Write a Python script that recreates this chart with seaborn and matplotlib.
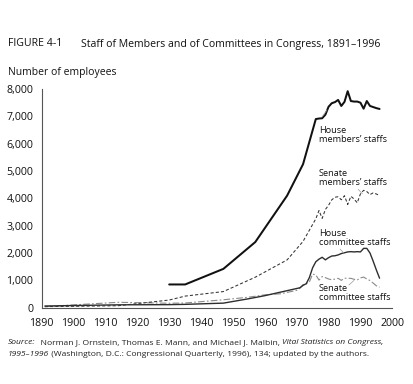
import matplotlib
matplotlib.use("Agg")
import matplotlib.pyplot as plt
import seaborn as sns
import pandas as pd

# ---------------- data ----------------
hm_years = [1930, 1935, 1947, 1957, 1967, 1972, 1976, 1977, 1978, 1979, 1980, 1981,
            1982, 1983, 1984, 1985, 1986, 1987, 1988, 1989, 1990, 1991, 1992, 1993,
            1994, 1995, 1996]
hm_vals = [850, 850, 1420, 2400, 4100, 5250, 6900, 6920, 6930, 7060, 7350, 7480,
           7520, 7600, 7380, 7530, 7920, 7560, 7540, 7540, 7500, 7280, 7560, 7380,
           7340, 7300, 7270]

sm_years = [1891, 1914, 1930, 1935, 1947, 1957, 1967, 1972, 1976, 1977, 1978, 1979,
            1980, 1981, 1982, 1983, 1984, 1985, 1986, 1987, 1988, 1989, 1990, 1991,
            1992, 1993, 1994, 1995, 1996]
sm_vals = [39, 72, 280, 424, 590, 1115, 1749, 2426, 3251, 3554, 3268, 3593,
           3746, 3945, 4041, 4059, 3949, 4097, 3774, 4075, 3977, 3837, 4162, 4294,
           4249, 4138, 4200, 4160, 4100]

hc_years = [1891, 1914, 1930, 1935, 1947, 1955, 1960, 1965, 1970, 1971, 1972, 1973,
            1974, 1975, 1976, 1977, 1978, 1979, 1980, 1981, 1982, 1983, 1984, 1985,
            1986, 1987, 1988, 1989, 1990, 1991, 1992, 1993, 1994, 1995, 1996]
hc_vals = [62, 105, 112, 122, 167, 329, 440, 571, 702, 729, 817, 878,
           1107, 1460, 1680, 1776, 1844, 1750, 1830, 1890, 1900, 1930, 1980, 2010,
           2040, 2050, 2040, 2050, 2040, 2170, 2170, 2000, 1700, 1380, 1080]

sc_years = [1891, 1914, 1930, 1935, 1947, 1955, 1960, 1965, 1970, 1971, 1972, 1973,
            1974, 1975, 1976, 1977, 1978, 1979, 1980, 1981, 1982, 1983, 1984, 1985,
            1986, 1987, 1988, 1989, 1990, 1991, 1992, 1993, 1994, 1995, 1996]
sc_vals = [41, 198, 163, 172, 290, 386, 470, 509, 635, 711, 844, 873,
           948, 1230, 1201, 1010, 1140, 1100, 1050, 1022, 1047, 1075, 1000, 1080,
           1075, 1074, 1040, 1013, 1090, 1120, 1051, 994, 900, 800, 750]

x_ticks = [1890, 1900, 1910, 1920, 1930, 1940, 1950, 1960, 1970, 1980, 1990, 2000]
y_ticks = [0, 1000, 2000, 3000, 4000, 5000, 6000, 7000, 8000]
y_tick_labels = ["0", "1,000", "2,000", "3,000", "4,000", "5,000", "6,000", "7,000", "8,000"]

series_labels = ["House\nmembers\u2019 staffs", "Senate\nmembers\u2019 staffs",
                 "House\ncommittee staffs", "Senate\ncommittee staffs"]

# ---------------- figure ----------------
sns.set_theme(style="white")
plt.rcParams["font.family"] = ["Open Sans", "DejaVu Sans"]

W, H = 413, 384
fig = plt.figure(figsize=(W / 100, H / 100), dpi=100)
ax = fig.add_axes([41.7 / W, 1 - 307.7 / H, (392.3 - 41.7) / W, (307.7 - 89) / H])

def draw(years, vals, color, lw, ls):
    df = pd.DataFrame({"year": years, "n": vals})
    sns.lineplot(data=df, x="year", y="n", ax=ax, color=color, linewidth=lw,
                 linestyle=ls, estimator=None, sort=False)

draw(sc_years, sc_vals, "#8a8a8a", 0.8, (0, (6, 2, 1.5, 2)))
draw(hc_years, hc_vals, "#2e2e2e", 1.0, "-")
draw(sm_years, sm_vals, "#333333", 0.75, (0, (3, 2)))
draw(hm_years, hm_vals, "#111111", 1.45, "-")

ax.set_xlim(1890, 2000)
ax.set_ylim(0, 8000)
ax.set_xticks(x_ticks)
ax.set_yticks(y_ticks)
ax.set_yticklabels(y_tick_labels)
ax.set_xlabel("")
ax.set_ylabel("")
for s in ["top", "right"]:
    ax.spines[s].set_visible(False)
for s in ["left", "bottom"]:
    ax.spines[s].set_color("#555555")
    ax.spines[s].set_linewidth(0.8)
ax.tick_params(axis="both", direction="out", length=4.5, width=0.8, color="#555555",
               labelsize=7.7, labelcolor="#111111", pad=1.5)
ax.tick_params(axis="x", pad=3)
ax.patch.set_alpha(0)

# series labels with leader lines
lab_fs = 6.6
label_pos = [(1977.0, 6646), (1977.0, 5073), (1977.0, 2879), (1977.0, 867)]
leaders = [((1977.9, 6975), (1979.5, 7230)),
           ((1989.3, 4330), (1990.6, 4170)),
           ((1983.6, 2145), (1984.9, 1990)),
           ((1986.4, 830), (1988.0, 1000))]
for (x, y), txt, ((x0, y0), (x1, y1)) in zip(label_pos, series_labels, leaders):
    ax.text(x, y, txt, fontsize=lab_fs, color="#111111", va="top", ha="left",
            linespacing=1.05)
    ax.plot([x0, x1], [y0, y1], color="#999999", lw=0.5)

# titles
fig.text(8 / W, 1 - 44 / H, "FIGURE 4-1", fontsize=7.6, color="#111111", va="center")
fig.text(81 / W, 1 - 44 / H, "Staff of Members and of Committees in Congress, 1891\u20131996",
         fontsize=7.6, color="#111111", va="center")
fig.text(8 / W, 1 - 73 / H, "Number of employees", fontsize=7.5, color="#111111", va="center")

# source note with mixed styles
fig.canvas.draw()
renderer = fig.canvas.get_renderer()

def pieces(x_px, y_px, parts, fs=6.1):
    x = x_px
    for txt, style in parts:
        t = fig.text(x / W, 1 - y_px / H, txt, fontsize=fs, style=style,
                     color="#222222", va="center", ha="left")
        bb = t.get_window_extent(renderer=renderer)
        x += bb.width

pieces(8, 343, [("Source:", "italic"),
                ("  Norman J. Ornstein, Thomas E. Mann, and Michael J. Malbin, ", "normal"),
                ("Vital Statistics on Congress,", "italic")])
pieces(8, 355, [("1995\u20131996", "italic"),
                (" (Washington, D.C.: Congressional Quarterly, 1996), 134; updated by the authors.",
                 "normal")])

fig.savefig("out.png", dpi=100, facecolor="white")
